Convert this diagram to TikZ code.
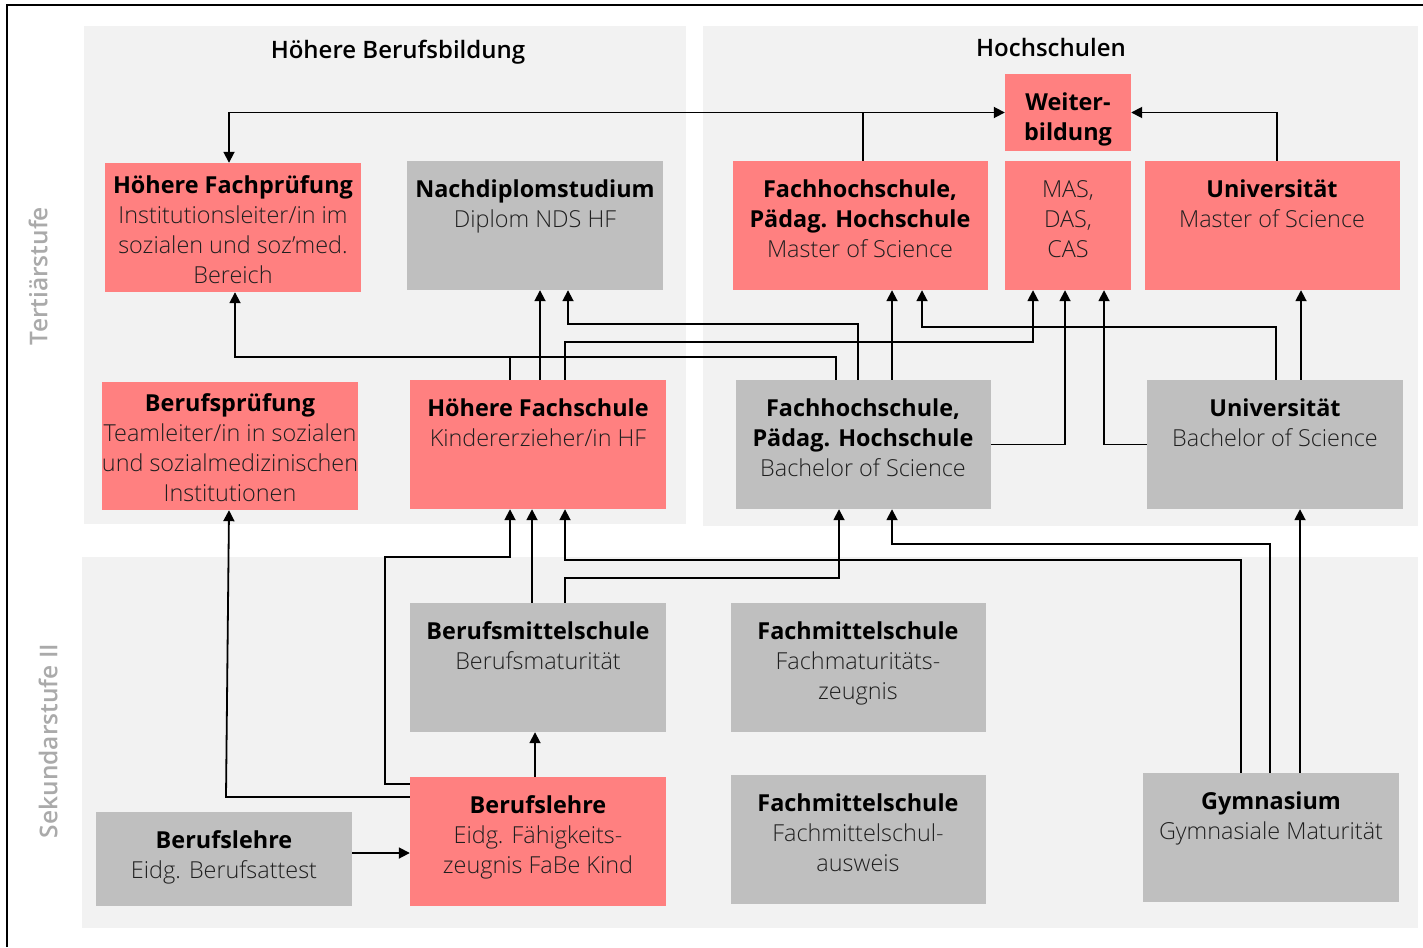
\documentclass[tikz,border=0pt]{standalone}
\usepackage{fontspec}
\setmainfont{Open Sans}
\IfFontExistsTF{Open Sans Light}{\newfontfamily\lightf{Open Sans Light}}{\newfontfamily\lightf{Open Sans}}
\IfFontExistsTF{Open Sans Semibold}{\newfontfamily\semibf{Open Sans Semibold}}{\newfontfamily\semibf{Open Sans}[UprightFont=*-Bold]}
\usetikzlibrary{arrows.meta,fit}
\definecolor{redbox}{RGB}{255,128,128}
\definecolor{graybox}{RGB}{191,191,191}
\definecolor{panelbg}{RGB}{242,242,242}
\definecolor{sidegray}{RGB}{170,170,170}
\newcommand\hd[1]{{\normalfont\bfseries\color{black}#1}}
\tikzset{
  panel/.style={fill=panelbg, draw=none, inner sep=0pt},
  rbox/.style={fill=redbox, draw=none, inner sep=0pt},
  gbox/.style={fill=graybox, draw=none, inner sep=0pt},
  txt/.style={anchor=north, inner sep=0pt, align=center, font=\fontsize{23.4}{30}\selectfont\lightf, text=black!88},
  ttl/.style={anchor=base, inner sep=0pt, font=\fontsize{24}{28}\selectfont\semibf, text=black},
  side/.style={rotate=90, inner sep=0pt, font=\fontsize{24.5}{28}\selectfont\semibf, text=sidegray},
  conn/.style={line width=1.8pt, black},
  arr/.style={conn, -{Triangle[length=11pt,width=11pt]}},
  arrb/.style={conn, {Triangle[length=11pt,width=11pt]}-{Triangle[length=11pt,width=11pt]}},
}
\newcommand\tx[4]{\node[txt] (#1) at (#2,#3-12) {\strut #4};}
\begin{document}
\begin{tikzpicture}[x=1pt,y=-1pt]
\useasboundingbox (0,0) rectangle (1423,947);
% outer frame
\draw[line width=2.5pt] (7,947) -- (7,5) -- (1423,5);
% panels
\node[panel, fit={(84,26) (686,524)}] (P1) {};
\node[panel, fit={(703,26) (1418,526)}] (P2) {};
\node[panel, fit={(82,557) (1418,928)}] (P3) {};
% titles
\node[ttl] (T1) at (398,59) {Höhere Berufsbildung};
\node[ttl] (T2) at (1051,57) {Hochschulen};
\node[side] (S1) at (38,276) {Tertiärstufe};
\node[side] (S2) at (48,741) {Sekundarstufe II};
% boxes
\node[rbox, fit={(105,163) (361,292)}] (HFP) {};
\node[gbox, fit={(407,161) (663,290)}] (NDS) {};
\node[rbox, fit={(1005,74) (1131,151)}] (WB) {};
\node[rbox, fit={(733,161) (988,290)}] (FHM) {};
\node[rbox, fit={(1005,161) (1131,290)}] (MAS) {};
\node[rbox, fit={(1145,161) (1400,290)}] (UM) {};
\node[rbox, fit={(102,382) (358,510)}] (BP) {};
\node[rbox, fit={(410,380) (666,509)}] (HF) {};
\node[gbox, fit={(736,380) (991,509)}] (FHB) {};
\node[gbox, fit={(1147,380) (1403,509)}] (UB) {};
\node[gbox, fit={(410,603) (666,732)}] (BMS) {};
\node[gbox, fit={(731,603) (986,732)}] (FMS1) {};
\node[rbox, fit={(410,777) (666,906)}] (BL) {};
\node[gbox, fit={(731,775) (986,904)}] (FMS2) {};
\node[gbox, fit={(1143,773) (1399,902)}] (GYM) {};
\node[gbox, fit={(96,812) (352,906)}] (BLA) {};
% texts
\tx{tHFP}{233}{184}{\hd{Höhere Fachprüfung}\\Institutionsleiter/in im\\sozialen und soz’med.\\Bereich}
\tx{tNDS}{535}{188}{\hd{Nachdiplomstudium}\\Diplom NDS HF}
\tx{tWB}{1068}{101}{\hd{Weiter-}\\\hd{bildung}}
\tx{tFHM}{860}{188}{\hd{Fachhochschule,}\\\hd{Pädag. Hochschule}\\Master of Science}
\tx{tMAS}{1068}{188}{MAS,\\DAS,\\CAS}
\tx{tUM}{1272}{188}{\hd{Universität}\\Master of Science}
\tx{tBP}{230}{402}{\hd{Berufsprüfung}\\Teamleiter/in in sozialen\\und sozialmedizinischen\\Institutionen}
\tx{tHF}{538}{407}{\hd{Höhere Fachschule}\\Kindererzieher/in HF}
\tx{tFHB}{863}{407}{\hd{Fachhochschule,}\\\hd{Pädag. Hochschule}\\Bachelor of Science}
\tx{tUB}{1275}{407}{\hd{Universität}\\Bachelor of Science}
\tx{tBMS}{538}{630}{\hd{Berufsmittelschule}\\Berufsmaturität}
\tx{tFMS1}{858}{630}{\hd{Fachmittelschule}\\Fachmaturitäts-\\zeugnis}
\tx{tBL}{538}{804}{\hd{Berufslehre}\\Eidg. Fähigkeits-\\zeugnis FaBe Kind}
\tx{tFMS2}{858}{802}{\hd{Fachmittelschule}\\Fachmittelschul-\\ausweis}
\tx{tGYM}{1271}{800}{\hd{Gymnasium}\\Gymnasiale Maturität}
\tx{tBLA}{224}{839}{\hd{Berufslehre}\\Eidg. Berufsattest}
% upper connectors
\draw[arrb] (229,0 |- HFP.north) |- (WB.west);
\draw[conn] (863,0 |- FHM.north) -- (863,0 |- WB.west);
\draw[arr] (1277,0 |- UM.north) |- (WB.east);
\draw[arr] (836,0 |- FHB.north) -- (836,357) -| (235,0 |- HFP.south);
\draw[conn] (510,0 |- HF.north) -- (510,357);
\draw[arr] (540,0 |- HF.north) -- (540,0 |- NDS.south);
\draw[arr] (858,0 |- FHB.north) -- (858,324) -| (568,0 |- NDS.south);
\draw[arr] (565,0 |- HF.north) -- (565,342) -| (1033,0 |- MAS.south);
\draw[arr] (892,0 |- FHB.north) -- (892,0 |- FHM.south);
\draw[arr] (1276,0 |- UB.north) -- (1276,327) -| (922,0 |- FHM.south);
\draw[arr] (FHB.east) -| (1065,0 |- MAS.south);
\draw[arr] (UB.west) -| (1104,0 |- MAS.south);
\draw[arr] (1301,0 |- UB.north) -- (1301,0 |- UM.south);
% lower connectors
\draw[arr] (BL.west |- 0,784) -- (385,784) -- (385,557) -| (510,0 |- HF.south);
\draw[arr] (BL.west |- 0,797) -- (226,797) -- (229,0 |- BP.south);
\draw[arr] (BLA.east |- 0,853) -- (BL.west |- 0,853);
\draw[arr] (535,0 |- BL.north) -- (535,0 |- BMS.south);
\draw[arr] (532,0 |- BMS.north) -- (532,0 |- HF.south);
\draw[arr] (565,0 |- BMS.north) -- (565,578) -| (839,0 |- FHB.south);
\draw[arr] (1241,0 |- GYM.north) -- (1241,560) -| (565,0 |- HF.south);
\draw[arr] (1270,0 |- GYM.north) -- (1270,544) -| (892,0 |- FHB.south);
\draw[arr] (1300,0 |- GYM.north) -- (1300,0 |- UB.south);
\end{tikzpicture}
\end{document}
